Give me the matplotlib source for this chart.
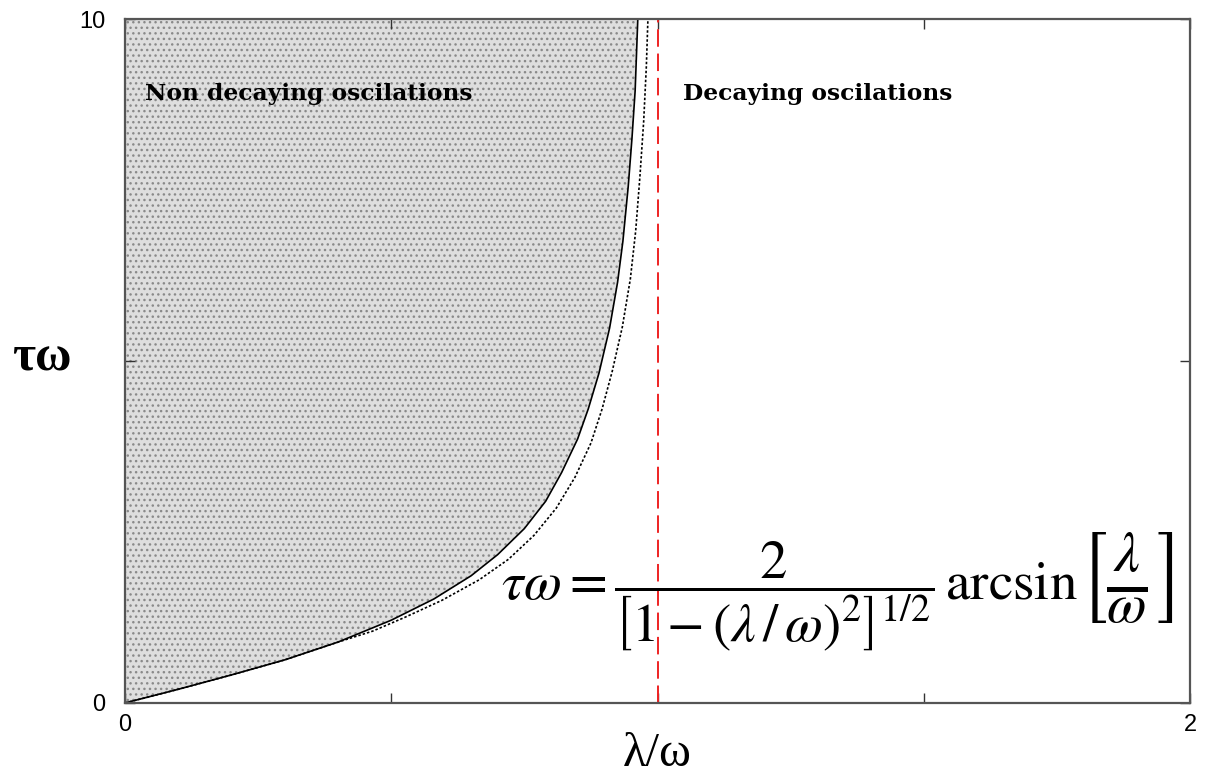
import matplotlib.pyplot as plt

# boundary between decaying / non decaying regimes (solid)
lw_solid = [0, 0.10, 0.20, 0.30, 0.40, 0.50, 0.58, 0.65, 0.70, 0.75, 0.79,
            0.82, 0.85, 0.87, 0.89, 0.91, 0.925, 0.935, 0.945, 0.952, 0.958,
            0.963]
tw_solid = [0, 0.20, 0.41, 0.63, 0.89, 1.21, 1.52, 1.86, 2.17, 2.55, 2.95,
            3.37, 3.86, 4.30, 4.82, 5.48, 6.15, 6.75, 7.55, 8.25, 8.95,
            10.0]

# second (dotted) curve, slightly to the right
lw_dot = [0, 0.10, 0.20, 0.30, 0.40, 0.465, 0.525, 0.595, 0.665, 0.72,
          0.768, 0.81, 0.845, 0.875, 0.896, 0.915, 0.934, 0.949, 0.959,
          0.967, 0.974, 0.979, 0.982]
tw_dot = [0, 0.20, 0.41, 0.63, 0.89, 1.05, 1.25, 1.50, 1.80, 2.10,
          2.45, 2.85, 3.30, 3.80, 4.30, 4.85, 5.50, 6.20, 6.90,
          7.70, 8.50, 9.30, 10.0]

lw_crit = 1.0
xticks = [0, 0.5, 1.0, 1.5, 2]
xticklabels = ['0', '', '', '', '2']
yticks = [0, 5, 10]
yticklabels = ['0', '', '10']

plt.rcParams['mathtext.fontset'] = 'stix'

fig = plt.figure(figsize=(12.05, 7.79), dpi=100)
ax = fig.add_axes([0.1037, 0.0976, 0.8839, 0.878])

ax.fill_betweenx(tw_solid, 0, lw_solid, facecolor='#dedede', hatch='...',
                 edgecolor='#8a8a8a', linewidth=0)
ax.plot(lw_solid, tw_solid, color='black', linewidth=1.2)
ax.plot(lw_dot, tw_dot, color='black', linestyle=(0, (1.5, 1.2)), linewidth=1.2)
ax.plot([lw_crit, lw_crit], [0, 10], color='#ee2222', linestyle=(0, (9, 3.5)),
        linewidth=1.4)

ax.set_xlim(0, 2)
ax.set_ylim(0, 10)
ax.set_xticks(xticks)
ax.set_xticklabels(xticklabels)
ax.set_yticks(yticks)
ax.set_yticklabels(yticklabels)
ax.tick_params(direction='in', length=7, width=1, colors='#333333',
               labelsize=17, top=True, right=True, pad=8)
ax.tick_params(axis='y', pad=14)
for lab in ax.get_xticklabels() + ax.get_yticklabels():
    lab.set_family('Liberation Sans')
    lab.set_color('black')
ax.xaxis.get_major_ticks()[2].tick1line.set_color('red')
for s in ax.spines.values():
    s.set_color('#555555')
    s.set_linewidth(1.6)

ax.set_xlabel('λ/ω', fontsize=35, family='Liberation Serif', va='baseline')
ax.xaxis.set_label_coords(0.5, -0.0921)
ax.set_ylabel('τω', fontsize=36, family='Liberation Serif', fontweight='bold',
              rotation=0, va='center', ha='center')
ax.yaxis.set_label_coords(-0.078, 0.504)

ax.text(0.0376, 8.82, 'Non decaying oscilations', fontsize=16.8,
        family='DejaVu Serif', fontweight='bold', va='baseline')
ax.text(1.048, 8.82, 'Decaying oscilations', fontsize=16.8,
        family='DejaVu Serif', fontweight='bold', va='baseline')

# formula: main part, then the bracketed argument set larger so the
# inner fraction comes out at full size
eq = ax.text(0.706, 1.506,
             r'$\tau\omega = \dfrac{2}{\left[1 - (\lambda\,/\,\omega)^2\right]^{1/2}}'
             r'\,\mathrm{arcsin}$',
             fontsize=39.5, ha='left', va='baseline')
ax.annotate(r'$\left[\frac{\lambda}{\omega}\right]$', xy=(1.0, 0.5),
            xycoords=eq, xytext=(0, 13), textcoords='offset points',
            fontsize=59, ha='left', va='center')

fig.savefig('out.png', dpi=100)
